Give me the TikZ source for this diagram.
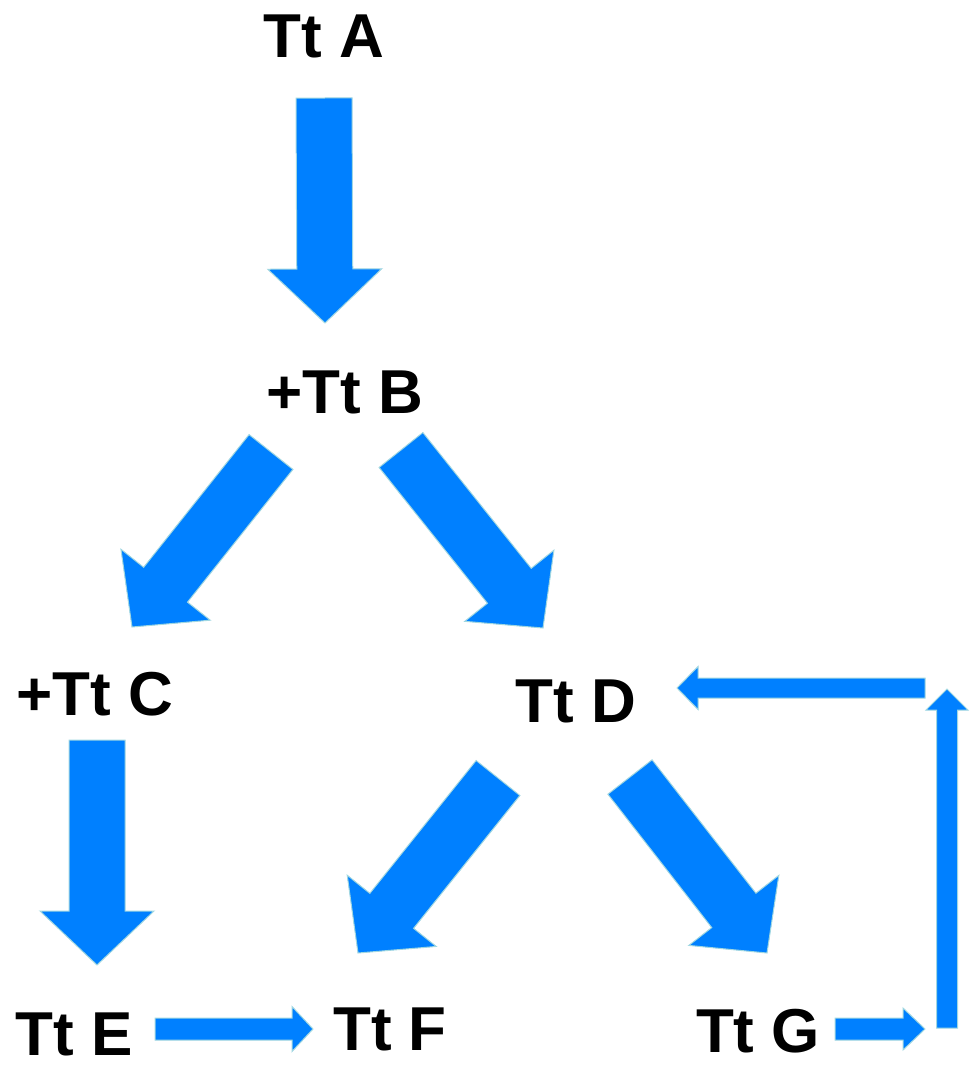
\documentclass[tikz,border=0pt]{standalone}
\usepackage{fontspec}
\setmainfont{Liberation Sans}
\usetikzlibrary{calc}
\definecolor{arrowblue}{RGB}{0,128,255}
\definecolor{arrowedge}{RGB}{160,215,225}
\tikzset{
  lbl/.style={font=\bfseries\fontsize{62}{62}\selectfont, anchor=base, inner sep=0pt, text=black},
  arrowfill/.style={fill=arrowblue, draw=arrowedge, line width=1pt, line join=miter},
  arrowshadow/.style={fill=black, opacity=0.10, draw=none}
}
% tail, tip, half shaft, half head, head length
\newcommand\blockarrowpath[5]{%
  ($(#1)!#3!90:(#2)$) -- ($($(#2)!#5!(#1)$)!#3!-90:(#1)$) -- ($($(#2)!#5!(#1)$)!#4!-90:(#1)$) -- (#2) --
  ($($(#2)!#5!(#1)$)!#4!90:(#1)$) -- ($($(#2)!#5!(#1)$)!#3!90:(#1)$) -- ($(#1)!#3!-90:(#2)$) -- cycle}
\newcommand\blockarrow[5]{%
  \path[arrowshadow, shift={(1.5pt,-3pt)}] \blockarrowpath{#1}{#2}{#3}{#4}{#5};
  \path[arrowfill] \blockarrowpath{#1}{#2}{#3}{#4}{#5};}
\begin{document}
\begin{tikzpicture}[x=1pt,y=-1pt]
\useasboundingbox (0,0) rectangle (970,1066);
% labels
\node[lbl] (A) at (324,57) {Tt A};
\node[lbl] (B) at (345,413) {+Tt B};
\node[lbl] (C) at (95,715) {+Tt C};
\node[lbl] (D) at (576,722) {Tt D};
\node[lbl] (E) at (74,1055) {Tt E};
\node[lbl] (F) at (390,1050) {Tt F};
\node[lbl] (G) at (758,1052) {Tt G};
% arrow end points
\coordinate (ab1) at (324,98);  \coordinate (ab2) at (325,323);
\coordinate (bc1) at (271,452); \coordinate (bc2) at (132,627);
\coordinate (bd1) at (401,450); \coordinate (bd2) at (543,628);
\coordinate (df1) at (498,778); \coordinate (df2) at (358,953);
\coordinate (dg1) at (630,777); \coordinate (dg2) at (767,953);
\coordinate (ce1) at (97,740);  \coordinate (ce2) at (97,965);
\coordinate (ef1) at (155,1029); \coordinate (ef2) at (313,1029);
\coordinate (gr1) at (835,1029); \coordinate (gr2) at (925,1029);
\coordinate (up1) at (947,1028); \coordinate (up2) at (947,689);
\coordinate (ld1) at (925,688); \coordinate (ld2) at (677,688);
% big arrows
\blockarrow{ab1}{ab2}{28pt}{57pt}{54pt}
\blockarrow{bc1}{bc2}{28pt}{57pt}{54pt}
\blockarrow{bd1}{bd2}{28pt}{57pt}{54pt}
\blockarrow{df1}{df2}{28pt}{57pt}{54pt}
\blockarrow{dg1}{dg2}{28pt}{57pt}{54pt}
\blockarrow{ce1}{ce2}{28pt}{57pt}{54pt}
% small arrows
\blockarrow{ef1}{ef2}{11pt}{22.5pt}{21pt}
\blockarrow{gr1}{gr2}{11pt}{21pt}{22pt}
\blockarrow{up1}{up2}{10.5pt}{21pt}{21pt}
\blockarrow{ld1}{ld2}{10pt}{21.5pt}{21pt}
\end{tikzpicture}
\end{document}
